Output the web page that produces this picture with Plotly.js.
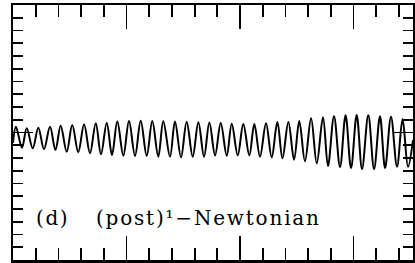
<!DOCTYPE html>
<html>
<head>
<meta charset="utf-8">
<script src="https://cdn.plot.ly/plotly-3.0.1.min.js"></script>
<style>
  html, body { margin: 0; padding: 0; background: #fff; }
  #chart { width: 415px; height: 263px; }
</style>
</head>
<body>
<div id="chart"></div>
<script>
// Signal: start/end points, successive maxima and minima
const startPoint = [0.0, -0.082];
const endPoint = [3.524, -0.059];

const peakTime = [0.026, 0.121, 0.223, 0.326, 0.420, 0.522, 0.626, 0.729, 0.826, 0.919,
  1.022, 1.125, 1.227, 1.324, 1.427, 1.530, 1.633, 1.730, 1.830, 1.927,
  2.029, 2.126, 2.229, 2.329, 2.426, 2.522, 2.626, 2.731, 2.828, 2.930,
  3.028, 3.130, 3.233, 3.330, 3.432];
const peakValue = [0.045, 0.033, 0.038, 0.045, 0.053, 0.059, 0.064, 0.072, 0.075, 0.086,
  0.090, 0.092, 0.090, 0.088, 0.086, 0.084, 0.081, 0.078, 0.075, 0.068,
  0.067, 0.067, 0.072, 0.082, 0.082, 0.090, 0.111, 0.120, 0.127, 0.135,
  0.137, 0.135, 0.127, 0.123, 0.106];

const troughTime = [0.079, 0.174, 0.273, 0.374, 0.473, 0.575, 0.678, 0.775, 0.872, 0.972,
  1.075, 1.178, 1.280, 1.383, 1.480, 1.583, 1.683, 1.780, 1.883, 1.980,
  2.082, 2.176, 2.279, 2.374, 2.476, 2.572, 2.676, 2.775, 2.881, 2.978,
  3.075, 3.181, 3.278, 3.383, 3.480];
const troughValue = [-0.119, -0.124, -0.132, -0.137, -0.151, -0.155, -0.163, -0.171, -0.176, -0.182,
  -0.184, -0.184, -0.190, -0.190, -0.194, -0.190, -0.190, -0.180, -0.182, -0.179,
  -0.180, -0.190, -0.195, -0.202, -0.213, -0.226, -0.242, -0.263, -0.271, -0.278,
  -0.286, -0.286, -0.278, -0.268, -0.268];

const panelLabel = "(d)";
const panelTitle = "(post)¹−Newtonian";

// merge the extrema into one time-ordered series
const pts = [startPoint];
for (let i = 0; i < peakTime.length; i++) pts.push([peakTime[i], peakValue[i]]);
for (let i = 0; i < troughTime.length; i++) pts.push([troughTime[i], troughValue[i]]);
pts.push(endPoint);
pts.sort((a, b) => a[0] - b[0]);

const trace = {
  x: pts.map(p => p[0]),
  y: pts.map(p => p[1]),
  type: 'scatter',
  mode: 'lines',
  line: { color: '#000', width: 2, shape: 'spline', smoothing: 1 },
  hoverinfo: 'skip'
};

const axisCommon = {
  showline: true, linecolor: '#000', linewidth: 2.5, mirror: 'allticks',
  ticks: 'inside', tickcolor: '#000', tickwidth: 1.8,
  showticklabels: false, showgrid: false, zeroline: false, fixedrange: true
};

const textFont = { family: 'DejaVu Serif', size: 20, color: '#000' };

const layout = {
  width: 415, height: 263,
  margin: { l: 13, r: 2, t: 5, b: 3, pad: 0 },
  paper_bgcolor: '#fff', plot_bgcolor: '#fff',
  showlegend: false,
  xaxis: Object.assign({}, axisCommon, {
    range: [0, 3.524], tick0: 0, dtick: 1, ticklen: 24,
    minor: { tick0: 0, dtick: 0.2, ticks: 'inside', ticklen: 12, tickwidth: 1.8, tickcolor: '#000', showgrid: false }
  }),
  yaxis: Object.assign({}, axisCommon, {
    range: [-1, 1], tick0: 0, dtick: 1, ticklen: 20,
    minor: { tick0: 0, dtick: 0.1, ticks: 'inside', ticklen: 10, tickwidth: 1.8, tickcolor: '#000', showgrid: false }
  }),
  annotations: [
    { text: '<span style="letter-spacing:1.6px">' + panelLabel + '</span>', xref: 'paper', yref: 'paper', x: 0.052, y: 0.163,
      xanchor: 'left', yanchor: 'middle', showarrow: false, font: textFont },
    { text: '<span style="letter-spacing:1.8px">' + panelTitle + '</span>', xref: 'paper', yref: 'paper', x: 0.202, y: 0.163,
      xanchor: 'left', yanchor: 'middle', showarrow: false, font: textFont }
  ]
};

Plotly.newPlot('chart', [trace], layout, { staticPlot: true, displayModeBar: false });
</script>
</body>
</html>
